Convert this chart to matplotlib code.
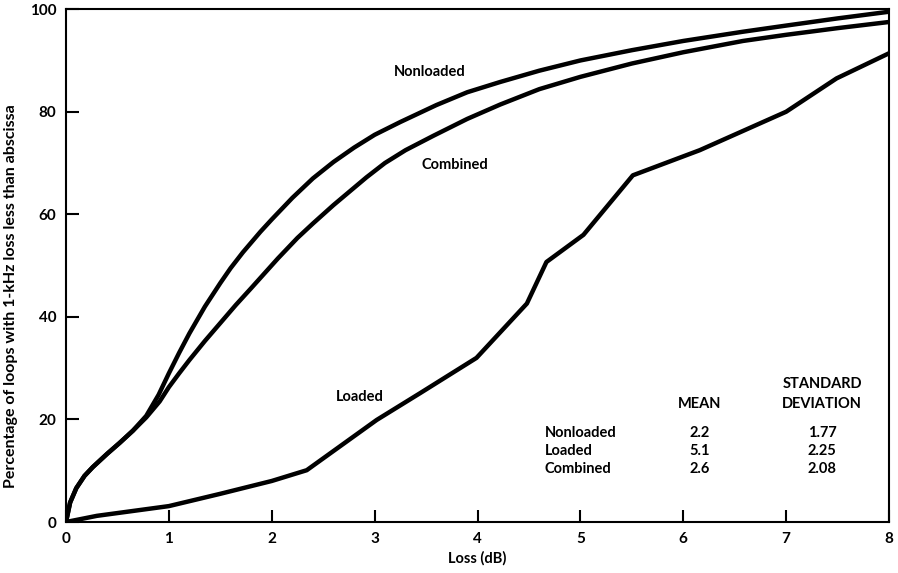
import matplotlib.pyplot as plt

plt.rcParams['font.family'] = ['Lato', 'DejaVu Sans']

# values
nonloaded_x = [0, 0.04, 0.1, 0.18, 0.26, 0.4, 0.52, 0.65, 0.78, 0.9, 1.0, 1.1, 1.2, 1.35, 1.5,
               1.6, 1.72, 1.89, 2.0, 2.2, 2.4, 2.6, 2.8, 3.0, 3.25, 3.6, 3.9, 4.22, 4.6, 5.0, 5.5,
               6.0, 6.58, 7.0, 7.5, 8.0]
nonloaded_y = [0, 3.8, 6.6, 9.0, 10.7, 13.3, 15.4, 17.8, 20.7, 24.8, 29, 33, 36.8, 42, 46.6,
               49.5, 52.6, 56.6, 59, 63.2, 67, 70.2, 73, 75.5, 78, 81.3, 83.8, 85.8, 88, 90, 92,
               93.8, 95.6, 96.8, 98.2, 99.5]

combined_x = [0, 0.04, 0.1, 0.18, 0.26, 0.4, 0.52, 0.65, 0.78, 0.91, 1.0, 1.1, 1.2, 1.35, 1.5,
              1.65, 1.8, 2.06, 2.25, 2.4, 2.6, 2.92, 3.1, 3.3, 3.57, 3.9, 4.22, 4.6, 5.0, 5.5,
              6.0, 6.58, 7.0, 7.5, 8.0]
combined_y = [0, 3.8, 6.6, 9.0, 10.7, 13.3, 15.4, 17.8, 20.4, 23.5, 26.3, 29, 31.6, 35.3, 38.8,
              42.3, 45.6, 51.4, 55.4, 58.2, 61.8, 67.2, 70, 72.5, 75.3, 78.6, 81.4, 84.4, 86.8, 89.4,
              91.6, 93.8, 95, 96.3, 97.5]

loaded_x = [0, 0.3, 1.0, 1.5, 2.0, 2.34, 3.02, 3.44, 3.99, 4.48, 4.67, 5.03, 5.51, 6.16, 7.0, 7.49, 8.0]
loaded_y = [0, 1.2, 3.1, 5.5, 8.0, 10.1, 19.9, 25.1, 32, 42.6, 50.7, 56, 67.6, 72.5, 80, 86.5, 91.4]

table_rows = ["Nonloaded", "Loaded", "Combined"]
table_mean = ["2.2", "5.1", "2.6"]
table_sd = ["1.77", "2.25", "2.08"]

fig = plt.figure(figsize=(8.98, 5.73), dpi=100)
ax = fig.add_axes([0.0735, 0.089, 0.9165, 0.895])

for xs, ys in [(nonloaded_x, nonloaded_y), (combined_x, combined_y), (loaded_x, loaded_y)]:
    ax.plot(xs, ys, color='black', lw=3.2, solid_joinstyle='round', solid_capstyle='round')

ax.set_xlim(0, 8)
ax.set_ylim(0, 100)
ax.set_xticks(range(0, 9))
ax.set_yticks(range(0, 101, 20))
ax.tick_params(direction='in', length=9, width=1.5, labelsize=11, pad=7)
for lab in ax.get_xticklabels() + ax.get_yticklabels():
    lab.set_fontweight('bold')
for s in ax.spines.values():
    s.set_linewidth(1.5)

txt = dict(fontsize=10.5, fontweight='bold')
ax.set_xlabel("Loss (dB)", labelpad=4, **txt)
ax.set_ylabel("Percentage of loops with 1-kHz loss less than abscissa",
              fontsize=11.5, fontweight='bold')
ax.yaxis.set_label_coords(-0.058, 0.44)

ax.text(3.54, 87.7, "Nonloaded", ha='center', va='center', **txt)
ax.text(3.78, 69.6, "Combined", ha='center', va='center', **txt)
ax.text(2.86, 24.4, "Loaded", ha='center', va='center', **txt)

ax.text(6.16, 23.0, "MEAN", ha='center', va='center', **txt)
ax.text(7.35, 27.0, "STANDARD", ha='center', va='center', **txt)
ax.text(7.35, 23.0, "DEVIATION", ha='center', va='center', **txt)
for i, (name, m, sd) in enumerate(zip(table_rows, table_mean, table_sd)):
    yy = 17.3 - 3.5 * i
    ax.text(4.65, yy, name, ha='left', va='center', **txt)
    ax.text(6.16, yy, m, ha='center', va='center', **txt)
    ax.text(7.35, yy, sd, ha='center', va='center', **txt)

fig.savefig("out.png", dpi=100)
